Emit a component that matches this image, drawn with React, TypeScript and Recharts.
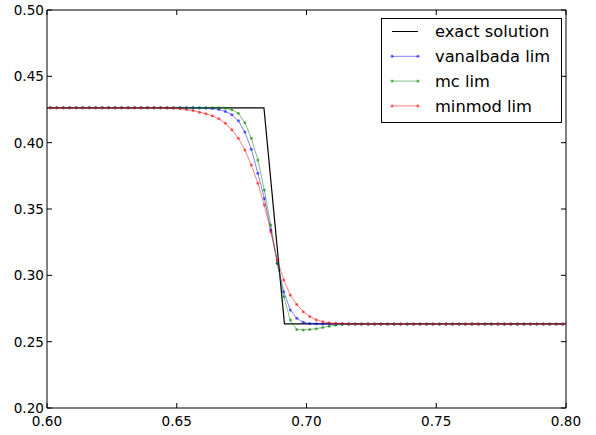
import React from "react";
import { LineChart, Line, XAxis, YAxis } from "recharts";

// cell centres, dx = 0.0025
const xs = [
  0.60125, 0.60375, 0.60625, 0.60875, 0.61125, 0.61375, 0.61625, 0.61875, 0.62125, 0.62375,
  0.62625, 0.62875, 0.63125, 0.63375, 0.63625, 0.63875, 0.64125, 0.64375, 0.64625, 0.64875,
  0.65125, 0.65375, 0.65625, 0.65875, 0.66125, 0.66375, 0.66625, 0.66875, 0.67125, 0.67375,
  0.67625, 0.67875, 0.68125, 0.68375, 0.68625, 0.68875, 0.69125, 0.69375, 0.69625, 0.69875,
  0.70125, 0.70375, 0.70625, 0.70875, 0.71125, 0.71375, 0.71625, 0.71875, 0.72125, 0.72375,
  0.72625, 0.72875, 0.73125, 0.73375, 0.73625, 0.73875, 0.74125, 0.74375, 0.74625, 0.74875,
  0.75125, 0.75375, 0.75625, 0.75875, 0.76125, 0.76375, 0.76625, 0.76875, 0.77125, 0.77375,
  0.77625, 0.77875, 0.78125, 0.78375, 0.78625, 0.78875, 0.79125, 0.79375, 0.79625, 0.79875,
];

const vanalbada = [
  0.4263, 0.4263, 0.4263, 0.4263, 0.4263, 0.4263, 0.4263, 0.4263, 0.4263, 0.4263,
  0.4263, 0.4263, 0.4263, 0.4263, 0.4263, 0.4263, 0.4263, 0.4263, 0.4263, 0.4263,
  0.4263, 0.4263, 0.4263, 0.4262, 0.4261, 0.4258, 0.4250, 0.4235, 0.4210, 0.4165,
  0.4080, 0.3950, 0.3770, 0.3580, 0.3342, 0.3091, 0.2877, 0.2739, 0.2676, 0.2646,
  0.2637, 0.2635, 0.2634, 0.2634, 0.2634, 0.2634, 0.2634, 0.2634, 0.2634, 0.2634,
  0.2634, 0.2634, 0.2634, 0.2634, 0.2634, 0.2634, 0.2634, 0.2634, 0.2634, 0.2634,
  0.2634, 0.2634, 0.2634, 0.2634, 0.2634, 0.2634, 0.2634, 0.2634, 0.2634, 0.2634,
  0.2634, 0.2634, 0.2634, 0.2634, 0.2634, 0.2634, 0.2634, 0.2634, 0.2634, 0.2634,
];

const mc = [
  0.4263, 0.4263, 0.4263, 0.4263, 0.4263, 0.4263, 0.4263, 0.4263, 0.4263, 0.4263,
  0.4263, 0.4263, 0.4263, 0.4263, 0.4263, 0.4263, 0.4263, 0.4263, 0.4263, 0.4263,
  0.4263, 0.4263, 0.4263, 0.4263, 0.4263, 0.4263, 0.4263, 0.4260, 0.4248, 0.4221,
  0.4151, 0.4033, 0.3869, 0.3643, 0.3379, 0.3091, 0.2839, 0.2663, 0.2592, 0.2588,
  0.2592, 0.2598, 0.2606, 0.2616, 0.2624, 0.2629, 0.2632, 0.2633, 0.2634, 0.2634,
  0.2634, 0.2634, 0.2634, 0.2634, 0.2634, 0.2634, 0.2634, 0.2634, 0.2634, 0.2634,
  0.2634, 0.2634, 0.2634, 0.2634, 0.2634, 0.2634, 0.2634, 0.2634, 0.2634, 0.2634,
  0.2634, 0.2634, 0.2634, 0.2634, 0.2634, 0.2634, 0.2634, 0.2634, 0.2634, 0.2634,
];

const minmod = [
  0.4263, 0.4263, 0.4263, 0.4263, 0.4263, 0.4263, 0.4263, 0.4263, 0.4263, 0.4263,
  0.4263, 0.4263, 0.4263, 0.4263, 0.4263, 0.4263, 0.4263, 0.4263, 0.4262, 0.4260,
  0.4256, 0.4250, 0.4242, 0.4230, 0.4218, 0.4202, 0.4180, 0.4146, 0.4097, 0.4033,
  0.3945, 0.3832, 0.3694, 0.3530, 0.3329, 0.3116, 0.2965, 0.2852, 0.2780, 0.2725,
  0.2690, 0.2665, 0.2650, 0.2642, 0.2638, 0.2636, 0.2635, 0.2634, 0.2634, 0.2634,
  0.2634, 0.2634, 0.2634, 0.2634, 0.2634, 0.2634, 0.2634, 0.2634, 0.2634, 0.2634,
  0.2634, 0.2634, 0.2634, 0.2634, 0.2634, 0.2634, 0.2634, 0.2634, 0.2634, 0.2634,
  0.2634, 0.2634, 0.2634, 0.2634, 0.2634, 0.2634, 0.2634, 0.2634, 0.2634, 0.2634,
];

const exactX = [0.6, 0.6836, 0.6915, 0.8];
const exactY = [0.4263, 0.4263, 0.2634, 0.2634];

const xTicks = [0.6, 0.65, 0.7, 0.75, 0.8];
const yTicks = [0.2, 0.25, 0.3, 0.35, 0.4, 0.45, 0.5];

const data = xs.map((x, i) => ({
  x,
  vanalbada: vanalbada[i],
  mc: mc[i],
  minmod: minmod[i],
}));
const exact = exactX.map((x, i) => ({ x, exact: exactY[i] }));

const font = "'DejaVu Sans', sans-serif";
const fmt = (v) => v.toFixed(2);
const TICK = 5; // inward tick length
const GAP = 8; // bottom label gap
const LGAP = 3; // left label gap

// matplotlib-style ticks: a short line pointing into the plot plus the label
const BottomTick = ({ x, y, payload }) => (
  <g>
    <line x1={x} x2={x} y1={y - GAP} y2={y - GAP - TICK} stroke="#000" />
    <text x={x} y={y} dy="0.72em" textAnchor="middle" fontSize={13.6} fontFamily={font} fill="#000">
      {fmt(payload.value)}
    </text>
  </g>
);
const LeftTick = ({ x, y, payload }) => (
  <g>
    <line x1={x + LGAP} x2={x + LGAP + TICK} y1={y} y2={y} stroke="#000" />
    <text x={x} y={y} dy="0.36em" textAnchor="end" fontSize={13.6} fontFamily={font} fill="#000">
      {fmt(payload.value)}
    </text>
  </g>
);
const TopTick = ({ x, y }) => <line x1={x} x2={x} y1={y} y2={y + TICK} stroke="#000" />;
const RightTick = ({ x, y }) => <line x1={x} x2={x - TICK} y1={y} y2={y} stroke="#000" />;

const legendItems = [
  { name: "exact solution", color: "#000", dots: false },
  { name: "vanalbada lim", color: "#0000ff", dots: true },
  { name: "mc lim", color: "#008000", dots: true },
  { name: "minmod lim", color: "#ff0000", dots: true },
];

// legend box drawn over the plot, top right
function LegendBox() {
  return (
    <svg
      width={182}
      height={106}
      style={{ position: "absolute", left: 381, top: 18, display: "block" }}
    >
      <rect x={0.5} y={0.5} width={180} height={104} fill="#fff" stroke="#000" />
      {legendItems.map((it, i) => {
        const y = 13.5 + i * 24.8;
        const op = it.dots ? 0.5 : 1;
        return (
          <g key={it.name}>
            <line x1={11} x2={37} y1={y} y2={y} stroke={it.color} strokeOpacity={op} />
            {it.dots && (
              <>
                <circle cx={11} cy={y} r={1.5} fill={it.color} fillOpacity={0.6} />
                <circle cx={37} cy={y} r={1.5} fill={it.color} fillOpacity={0.6} />
              </>
            )}
            <text x={54} y={y} dy="0.35em" fontSize={16.3} fontFamily={font} fill="#000">
              {it.name}
            </text>
          </g>
        );
      })}
    </svg>
  );
}

const dot = (color) => ({ r: 1.5, fill: color, fillOpacity: 0.6, stroke: "none" });

export default function App() {
  return (
    <div style={{ position: "absolute", left: 0, top: 0, width: 596, height: 435, background: "#fff" }}>
      <LineChart
        width={596}
        height={435}
        data={data}
        margin={{ top: 9, right: 29, left: 0, bottom: 0 }}
      >
        <XAxis
          xAxisId="b"
          dataKey="x"
          type="number"
          domain={[0.6, 0.8]}
          ticks={xTicks}
          allowDataOverflow
          height={27}
          tickSize={0}
          tickMargin={GAP}
          axisLine={{ stroke: "#000" }}
          tickLine={false}
          tick={BottomTick}
        />
        <XAxis
          xAxisId="t"
          orientation="top"
          dataKey="x"
          type="number"
          domain={[0.6, 0.8]}
          ticks={xTicks}
          allowDataOverflow
          height={1}
          tickSize={0}
          tickMargin={0}
          axisLine={{ stroke: "#000" }}
          tickLine={false}
          tick={TopTick}
        />
        <YAxis
          yAxisId="l"
          type="number"
          domain={[0.2, 0.5]}
          ticks={yTicks}
          allowDataOverflow
          width={47}
          tickSize={0}
          tickMargin={LGAP}
          axisLine={{ stroke: "#000" }}
          tickLine={false}
          tick={LeftTick}
        />
        <YAxis
          yAxisId="r"
          orientation="right"
          type="number"
          domain={[0.2, 0.5]}
          ticks={yTicks}
          allowDataOverflow
          width={1}
          tickSize={0}
          tickMargin={0}
          axisLine={{ stroke: "#000" }}
          tickLine={false}
          tick={RightTick}
        />
        <Line
          xAxisId="b"
          yAxisId="l"
          data={exact}
          dataKey="exact"
          type="linear"
          stroke="#000"
          strokeWidth={1.2}
          dot={false}
          activeDot={false}
          isAnimationActive={false}
        />
        <Line
          xAxisId="b"
          yAxisId="l"
          dataKey="vanalbada"
          type="linear"
          stroke="#0000ff"
          strokeOpacity={0.5}
          dot={dot("#0000ff")}
          activeDot={false}
          isAnimationActive={false}
        />
        <Line
          xAxisId="b"
          yAxisId="l"
          dataKey="mc"
          type="linear"
          stroke="#008000"
          strokeOpacity={0.5}
          dot={dot("#008000")}
          activeDot={false}
          isAnimationActive={false}
        />
        <Line
          xAxisId="b"
          yAxisId="l"
          dataKey="minmod"
          type="linear"
          stroke="#ff0000"
          strokeOpacity={0.5}
          dot={dot("#ff0000")}
          activeDot={false}
          isAnimationActive={false}
        />
      </LineChart>
      <LegendBox />
    </div>
  );
}
